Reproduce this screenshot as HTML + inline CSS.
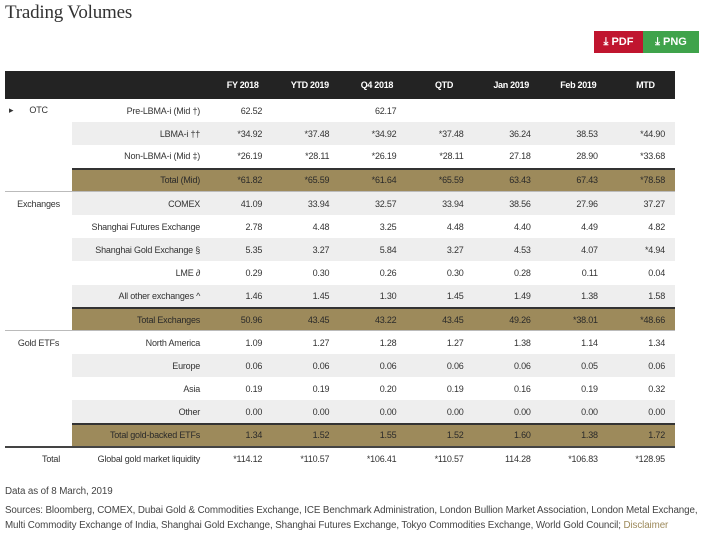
<!DOCTYPE html>
<html><head><meta charset="utf-8"><style>
*{margin:0;padding:0;box-sizing:border-box}
body{width:707px;height:540px;background:#fff;font-family:"Liberation Sans",sans-serif;color:#333;position:relative;overflow:hidden}
h1{position:absolute;left:5px;top:2px;font-family:"Liberation Serif",serif;font-weight:normal;font-size:19px;color:#333;letter-spacing:-0.2px}
.btn{position:absolute;top:31px;height:22px;color:#fff;font-size:11px;font-weight:bold;line-height:22px;text-align:center}
table{position:absolute;left:5px;top:71px;width:670px;border-collapse:collapse;font-size:9px;table-layout:fixed}
th{background:#232323;color:#fff;height:28px;font-weight:bold;text-align:center;font-size:9px;letter-spacing:-0.3px;padding-left:8px}
th:first-child,th:nth-child(2){padding-left:0}
td{height:23.2px;text-align:right;padding-right:10px;letter-spacing:-0.2px}
td.g{text-align:center;padding:0}
td.l{padding-right:5px}
tr.s td.c{background:#eeeeee}
tr.t td.c{background:#9d8a5b;border-top:2px solid #333}
tr.t2 td{border-bottom:2px solid #444}
tr.top td{border-top:1px solid #bbb}
tr.t td.c{color:#2a2a2a}
.foot{position:absolute;left:5px;font-size:9.8px;color:#444;letter-spacing:-0.1px;white-space:nowrap}
</style></head><body>
<h1>Trading Volumes</h1>
<div class="btn" style="left:594px;width:49px;background:#c0152f">⤓ PDF</div>
<div class="btn" style="left:643px;width:56px;background:#3fa34b">⤓ PNG</div>
<table>
<colgroup><col style="width:67px"><col style="width:133px"><col span="7" style="width:67.1px"></colgroup>
<tr><th></th><th></th><th>FY 2018</th><th>YTD 2019</th><th>Q4 2018</th><th>QTD</th><th>Jan 2019</th><th>Feb 2019</th><th>MTD</th></tr>
<tr><td class="g" style="text-align:left;padding-left:4px">▸ &nbsp; &nbsp; &nbsp; OTC</td><td class="c l">Pre-LBMA-i (Mid †)</td><td class="c">62.52</td><td class="c"></td><td class="c">62.17</td><td class="c"></td><td class="c"></td><td class="c"></td><td class="c"></td></tr>
<tr class="s"><td></td><td class="c l">LBMA-i ††</td><td class="c">*34.92</td><td class="c">*37.48</td><td class="c">*34.92</td><td class="c">*37.48</td><td class="c">36.24</td><td class="c">38.53</td><td class="c">*44.90</td></tr>
<tr><td></td><td class="c l">Non-LBMA-i (Mid ‡)</td><td class="c">*26.19</td><td class="c">*28.11</td><td class="c">*26.19</td><td class="c">*28.11</td><td class="c">27.18</td><td class="c">28.90</td><td class="c">*33.68</td></tr>
<tr class="t"><td></td><td class="c l">Total (Mid)</td><td class="c">*61.82</td><td class="c">*65.59</td><td class="c">*61.64</td><td class="c">*65.59</td><td class="c">63.43</td><td class="c">67.43</td><td class="c">*78.58</td></tr>
<tr class="s top"><td class="g">Exchanges</td><td class="c l">COMEX</td><td class="c">41.09</td><td class="c">33.94</td><td class="c">32.57</td><td class="c">33.94</td><td class="c">38.56</td><td class="c">27.96</td><td class="c">37.27</td></tr>
<tr><td></td><td class="c l">Shanghai Futures Exchange</td><td class="c">2.78</td><td class="c">4.48</td><td class="c">3.25</td><td class="c">4.48</td><td class="c">4.40</td><td class="c">4.49</td><td class="c">4.82</td></tr>
<tr class="s"><td></td><td class="c l">Shanghai Gold Exchange §</td><td class="c">5.35</td><td class="c">3.27</td><td class="c">5.84</td><td class="c">3.27</td><td class="c">4.53</td><td class="c">4.07</td><td class="c">*4.94</td></tr>
<tr><td></td><td class="c l">LME ∂</td><td class="c">0.29</td><td class="c">0.30</td><td class="c">0.26</td><td class="c">0.30</td><td class="c">0.28</td><td class="c">0.11</td><td class="c">0.04</td></tr>
<tr class="s"><td></td><td class="c l">All other exchanges ^</td><td class="c">1.46</td><td class="c">1.45</td><td class="c">1.30</td><td class="c">1.45</td><td class="c">1.49</td><td class="c">1.38</td><td class="c">1.58</td></tr>
<tr class="t"><td></td><td class="c l">Total Exchanges</td><td class="c">50.96</td><td class="c">43.45</td><td class="c">43.22</td><td class="c">43.45</td><td class="c">49.26</td><td class="c">*38.01</td><td class="c">*48.66</td></tr>
<tr class="top"><td class="g">Gold ETFs</td><td class="c l">North America</td><td class="c">1.09</td><td class="c">1.27</td><td class="c">1.28</td><td class="c">1.27</td><td class="c">1.38</td><td class="c">1.14</td><td class="c">1.34</td></tr>
<tr class="s"><td></td><td class="c l">Europe</td><td class="c">0.06</td><td class="c">0.06</td><td class="c">0.06</td><td class="c">0.06</td><td class="c">0.06</td><td class="c">0.05</td><td class="c">0.06</td></tr>
<tr><td></td><td class="c l">Asia</td><td class="c">0.19</td><td class="c">0.19</td><td class="c">0.20</td><td class="c">0.19</td><td class="c">0.16</td><td class="c">0.19</td><td class="c">0.32</td></tr>
<tr class="s"><td></td><td class="c l">Other</td><td class="c">0.00</td><td class="c">0.00</td><td class="c">0.00</td><td class="c">0.00</td><td class="c">0.00</td><td class="c">0.00</td><td class="c">0.00</td></tr>
<tr class="t t2"><td></td><td class="c l">Total gold-backed ETFs</td><td class="c">1.34</td><td class="c">1.52</td><td class="c">1.55</td><td class="c">1.52</td><td class="c">1.60</td><td class="c">1.38</td><td class="c">1.72</td></tr>
<tr><td class="g" style="text-align:right;padding-right:12px">Total</td><td class="c l">Global gold market liquidity</td><td class="c">*114.12</td><td class="c">*110.57</td><td class="c">*106.41</td><td class="c">*110.57</td><td class="c">114.28</td><td class="c">*106.83</td><td class="c">*128.95</td></tr>
</table>
<div class="foot" style="top:486px">Data as of 8 March, 2019</div>
<div class="foot" style="top:503px;line-height:15px">Sources: Bloomberg, COMEX, Dubai Gold &amp; Commodities Exchange, ICE Benchmark Administration, London Bullion Market Association, London Metal Exchange,<br>Multi Commodity Exchange of India, Shanghai Gold Exchange, Shanghai Futures Exchange, Tokyo Commodities Exchange, World Gold Council; <span style="color:#9d8a5b">Disclaimer</span></div>
</body></html>
